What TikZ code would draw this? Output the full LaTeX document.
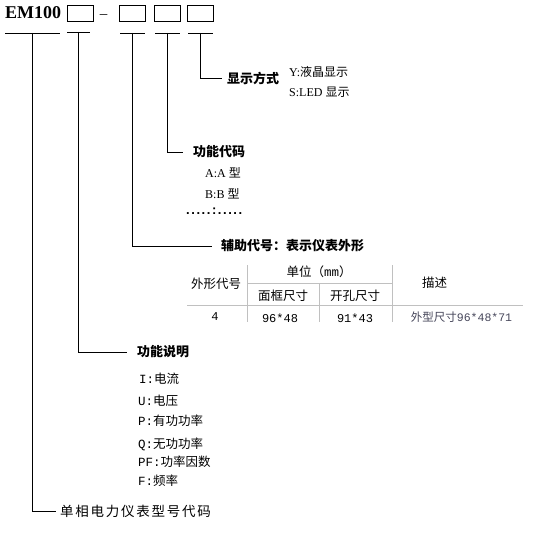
\documentclass[tikz,border=0pt]{standalone}
\usepackage{fontspec}
\setmainfont{Liberation Serif}
\newfontfamily\cjk{Noto Sans CJK SC}
\newfontfamily\cjkwide[LetterSpace=13]{Noto Sans CJK SC}
\newfontfamily\monof{Liberation Mono}
\newfontfamily\dotfont[LetterSpace=12]{Liberation Sans}
\newcommand{\zh}[1]{{\cjk #1}}
\newcommand{\mo}[1]{{\monof #1}}
\definecolor{tablegray}{RGB}{192,192,192}
\definecolor{descgray}{RGB}{70,70,90}
\begin{document}
\begin{tikzpicture}[x=1pt,y=-1pt,
  codebox/.style={draw,line width=0.8pt,minimum width=26pt,minimum height=16pt,inner sep=0},
  conn/.style={line width=0.8pt},
  blab/.style={anchor=west,inner sep=0,font=\fontsize{13}{15}\selectfont\cjk\bfseries},
  opt/.style={anchor=west,inner sep=0,font=\fontsize{12}{14}\selectfont},
  item/.style={anchor=west,inner sep=0,font=\fontsize{12.5}{14}\selectfont},
  cell/.style={inner sep=0,font=\fontsize{12.5}{14}\selectfont},
  tline/.style={draw=tablegray,line width=0.8pt}]
\useasboundingbox (0,0) rectangle (535,535);
% model code
\node[anchor=west,inner sep=0,font=\fontsize{18}{20}\selectfont\bfseries] (em) at (5,13) {EM100};
\node[codebox] (b1) at (80,13) {};
\node[anchor=base,inner sep=0,font=\fontsize{15}{16}\selectfont] (dash) at (103.5,19) {–};
\node[codebox] (b2) at (132,13) {};
\node[codebox] (b3) at (167,13) {};
\node[codebox] (b4) at (200,13) {};
% underlines
\coordinate (u0a) at (5,33); \coordinate (u0b) at (60,33);
\coordinate (u1a) at (67,32); \coordinate (u1b) at (90,32);
\coordinate (u2a) at (120,33); \coordinate (u2b) at (145,33);
\coordinate (u3a) at (155,33); \coordinate (u3b) at (180,33);
\coordinate (u4a) at (188,33); \coordinate (u4b) at (213,33);
\draw[conn] (u0a) -- (u0b);
\draw[conn] (u1a) -- (u1b);
\draw[conn] (u2a) -- (u2b);
\draw[conn] (u3a) -- (u3b);
\draw[conn] (u4a) -- (u4b);
\coordinate (v0) at (32,33);
\coordinate (v1) at (78,32);
\coordinate (v2) at (132,33);
\coordinate (v3) at (167,33);
\coordinate (v4) at (200,33);
% display mode
\node[blab] (l4) at (227,78) {显示方式};
\node[opt] (y) at (289,72) {Y:\zh{液晶显示}};
\node[opt] (s) at (289,92) {S:LED \zh{显示}};
\draw[conn] (v4) |- ([xshift=-5pt]l4.west);
% function code
\node[blab] (l3) at (193,152) {功能代码};
\node[opt] (a) at (205,173) {A:A \zh{型}};
\node[opt] (bb) at (205,194) {B:B \zh{型}};
\node[anchor=base west,inner sep=0,font=\fontsize{13}{15}\selectfont\dotfont\bfseries] (dots) at (186,214) {.....:.....};
\draw[conn] (v3) |- ([xshift=-10pt]l3.west);
% auxiliary code
\node[blab] (l2) at (221,246) {辅助代号：表示仪表外形};
\draw[conn] (v2) |- ([xshift=-9pt]l2.west);
% table
\coordinate (t1) at (247,265); \coordinate (t1b) at (247,322);
\coordinate (t2) at (392,265); \coordinate (t2b) at (392,322);
\coordinate (t3) at (319,283); \coordinate (t3b) at (319,322);
\coordinate (h1) at (247,283); \coordinate (h1b) at (392,283);
\coordinate (h2) at (187,305); \coordinate (h2b) at (523,305);
\draw[tline] (t1) -- (t1b);
\draw[tline] (t2) -- (t2b);
\draw[tline] (t3) -- (t3b);
\draw[tline] (h1) -- (h1b);
\draw[tline] (h2) -- (h2b);
\node[cell] (c11) at (216,284) {\zh{外形代号}};
\node[cell] (c12) at (319,272) {\zh{单位（}\mo{mm}\zh{）}};
\node[cell] (c13) at (434.5,283) {\zh{描述}};
\node[cell] (c22) at (283,296) {\zh{面框尺寸}};
\node[cell] (c23) at (355,296) {\zh{开孔尺寸}};
\node[cell,font=\fontsize{12}{14}\selectfont\monof] (c31) at (215,317) {4};
\node[cell,font=\fontsize{12}{14}\selectfont\monof] (c32) at (280,318) {96*48};
\node[cell,font=\fontsize{12}{14}\selectfont\monof] (c33) at (355,318) {91*43};
\node[cell,text=descgray,font=\fontsize{11.5}{14}\selectfont\monof] (c34) at (461.5,317) {\zh{外型尺寸}96*48*71};
% function description
\node[blab] (l1) at (137,352) {功能说明};
\draw[conn] (v1) |- ([xshift=-10pt]l1.west);
\node[item] (i1) at (139,379) {\mo{I:}\zh{电流}};
\node[item] (i2) at (138,401) {\mo{U:}\zh{电压}};
\node[item] (i3) at (138,421) {\mo{P:}\zh{有功功率}};
\node[item] (i4) at (138,444) {\mo{Q:}\zh{无功功率}};
\node[item] (i5) at (138,462) {\mo{PF:}\zh{功率因数}};
\node[item] (i6) at (138,481) {\mo{F:}\zh{频率}};
% series code
\node[anchor=west,inner sep=0,font=\fontsize{13.5}{15}\selectfont\cjkwide] (l0) at (60,511) {单相电力仪表型号代码};
\draw[conn] (v0) |- ([xshift=-4pt]l0.west);
\end{tikzpicture}
\end{document}
